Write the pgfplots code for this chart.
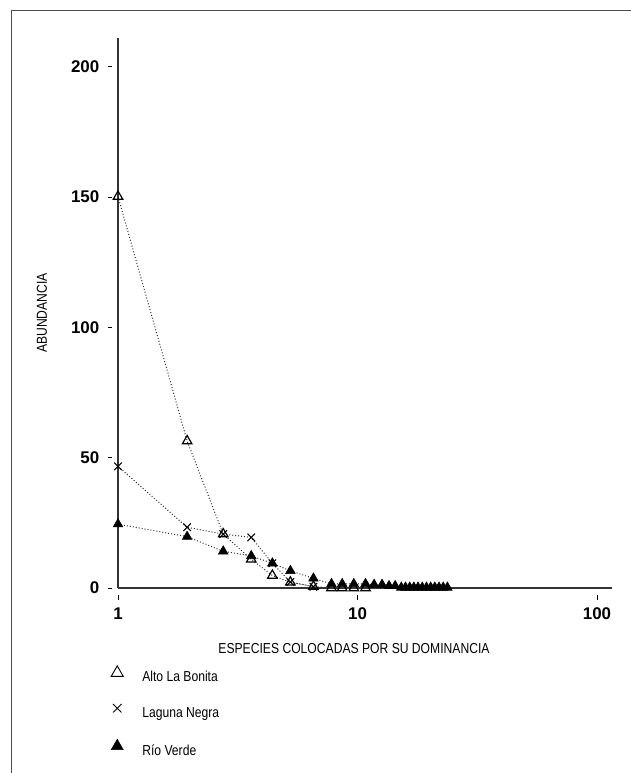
\documentclass[border=0pt]{standalone}
\usepackage{fontspec}
\setmainfont{Liberation Sans}
\newfontfamily\condfont{Liberation Sans}[FakeStretch=0.84]
\usepackage{pgfplots}
\pgfplotsset{compat=1.18}
\begin{document}
\begin{tikzpicture}[x=1bp,y=1bp]
\useasboundingbox (0,0) rectangle (631,-773);
\draw[line width=1.2bp, black!70] (11.5,-773) -- (11.5,-10.7) -- (631,-10.7);
\begin{axis}[
  at={(118bp,-588bp)}, anchor=south west,
  scale only axis, width=494bp, height=550bp,
  xmode=log, xmin=1, xmax=115.5, ymin=0, ymax=211,
  axis x line=bottom, axis y line=left,
  axis line style={-, line width=1.3bp, black!80},
  clip=false,
  xtick={1,10,100}, xticklabels={1,10,100},
  xminorticks=false,
  ytick={0,50,100,150,200},
  tick align=outside, major tick length=4.5bp,
  xtick style={yshift=-7bp, line width=0.8bp, black},
  ytick style={xshift=-6bp, line width=0.8bp, black},
  /pgf/number format/assume math mode=true,
  ticklabel style={font=\bfseries\fontsize{17}{17}\selectfont},
  yticklabel style={anchor=east, inner sep=0pt, xshift=-14bp},
  xticklabel style={anchor=north, inner sep=0pt, yshift=-15bp},
  xlabel={ESPECIES COLOCADAS POR SU DOMINANCIA},
  ylabel={ABUNDANCIA},
  label style={font=\condfont\fontsize{14.5}{16}\selectfont},
  xlabel style={at={(axis description cs:0.4777,-0.110)}, anchor=center},
  ylabel style={at={(axis description cs:-0.1538,0.5)}, anchor=center},
  legend image code/.code={\draw[#1] plot coordinates {(0bp,5bp)};},
  legend cell align=left,
  legend style={at={(axis description cs:-0.0142,-0.2255)}, anchor=west,
    draw=none, fill=none, inner sep=0pt, row sep=19bp,
    font=\condfont\fontsize{14.5}{16}\selectfont,
    nodes={inner sep=0pt, text height=11bp, text depth=3bp},
    /tikz/every odd column/.append style={column sep=19bp}},
]
\addplot[black!80, line width=1bp, dash pattern=on 1bp off 2bp,
  mark=triangle*, mark size=5.5bp, mark options={solid, fill=black, draw=black, line width=0.6bp},
  forget plot] coordinates {
(1,24.5) (1.944,19.7) (2.750,14.1) (3.601,12.3) (4.410,9.5) (5.245,6.6) (6.545,3.7)
(7.785,1.6) (8.630,1.6) (9.650,1.6) (10.80,1.6) (11.73,1.3) (12.66,1.3) (13.54,0.8) (14.36,0.8)
(15.23,0.2) (15.86,0.2) (16.52,0.2) (17.19,0.2) (17.89,0.2) (18.64,0.2) (19.41,0.2)
(20.21,0.2) (21.02,0.2) (21.89,0.2) (22.79,0.2) (23.73,0.2)};
\addplot[black!80, line width=1bp, dash pattern=on 1bp off 2bp,
  mark=triangle, mark size=5.5bp, mark options={solid, draw=black, fill=white, line width=1.2bp},
  forget plot] coordinates {
(1,150.2) (1.944,56.4) (2.750,20.7) (3.601,11.0) (4.410,4.8) (5.245,2.2) (6.545,0.6)
(7.785,0) (8.630,0) (9.650,0) (10.80,0)};
\addplot[black!80, line width=1bp, dash pattern=on 1bp off 2bp,
  mark=x, mark size=5.3bp, mark options={solid, draw=black, line width=1.1bp},
  forget plot] coordinates {
(1,46.7) (1.944,23.3) (2.750,20.7) (3.601,19.4) (4.410,9.5) (5.245,2.3) (6.545,0.5)};
\addlegendimage{only marks, mark=triangle, mark size=7bp, mark options={draw=black, line width=0.9bp}}
\addlegendentry{Alto La Bonita}
\addlegendimage{only marks, mark=x, mark size=6bp, mark options={draw=black, line width=0.9bp}}
\addlegendentry{Laguna Negra}
\addlegendimage{only marks, mark=triangle*, mark size=7bp, mark options={draw=black, fill=black}}
\addlegendentry{Río Verde}
\end{axis}
\end{tikzpicture}
\end{document}
